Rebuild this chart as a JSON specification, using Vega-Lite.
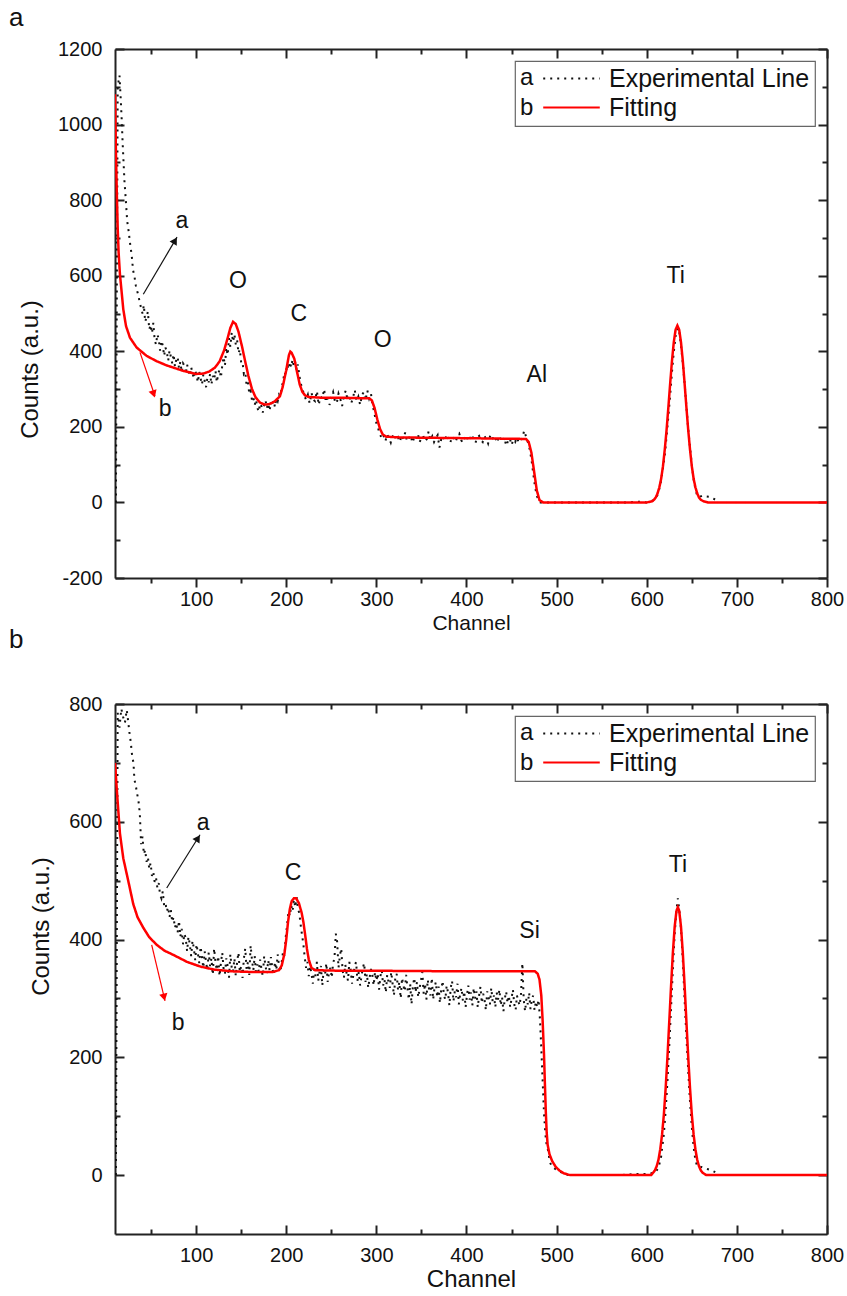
{
"$schema":"https://vega.github.io/schema/vega-lite/v6.json",
"padding":{"left":9,"top":5,"right":5,"bottom":2},
"background":"white",
"spacing":-6,
"datasets":{
"ea":[{"c":11,"v":0},{"c":13,"v":1100},{"c":15,"v":1130},{"c":16.5,"v":1060},{"c":17.5,"v":1010},{"c":18.5,"v":950},{"c":19.5,"v":900},{"c":20.5,"v":850},{"c":22,"v":800},{"c":23.5,"v":745},{"c":25,"v":720},{"c":27,"v":680},{"c":28.5,"v":655},{"c":30,"v":615},{"c":31.5,"v":600},{"c":33,"v":575},{"c":34.5,"v":560},{"c":36,"v":548},{"c":37.5,"v":528},{"c":39,"v":515},{"c":40.5,"v":500},{"c":42,"v":522},{"c":43.5,"v":478},{"c":45,"v":490},{"c":46.5,"v":505},{"c":48,"v":458},{"c":49.5,"v":470},{"c":51,"v":448},{"c":52.5,"v":475},{"c":54,"v":430},{"c":55.5,"v":418},{"c":57,"v":445},{"c":58.5,"v":432},{"c":60,"v":402},{"c":61.5,"v":428},{"c":63,"v":415},{"c":64.5,"v":388},{"c":66,"v":410},{"c":67.5,"v":398},{"c":69,"v":375},{"c":70.5,"v":402},{"c":72,"v":385},{"c":73.5,"v":368},{"c":75,"v":392},{"c":76.5,"v":360},{"c":78,"v":378},{"c":79.5,"v":385},{"c":81,"v":355},{"c":82.5,"v":372},{"c":84,"v":345},{"c":85.5,"v":368},{"c":87,"v":362},{"c":88.5,"v":340},{"c":90,"v":365},{"c":91.5,"v":348},{"c":93,"v":335},{"c":94.5,"v":358},{"c":96,"v":342},{"c":97.5,"v":328},{"c":99,"v":350},{"c":100.5,"v":335},{"c":102,"v":318},{"c":103.5,"v":345},{"c":105,"v":328},{"c":106.5,"v":312},{"c":108,"v":338},{"c":109.5,"v":322},{"c":111,"v":305},{"c":112.5,"v":330},{"c":114,"v":318},{"c":115.5,"v":340},{"c":117,"v":312},{"c":118.5,"v":335},{"c":120,"v":325},{"c":121.5,"v":348},{"c":123,"v":318},{"c":124.5,"v":340},{"c":126,"v":352},{"c":127.5,"v":330},{"c":129,"v":362},{"c":130.5,"v":385},{"c":132,"v":362},{"c":133.5,"v":410},{"c":135,"v":390},{"c":136.5,"v":435},{"c":138,"v":412},{"c":139.5,"v":450},{"c":141,"v":425},{"c":142.5,"v":445},{"c":144,"v":418},{"c":145.5,"v":430},{"c":147,"v":395},{"c":148.5,"v":405},{"c":150,"v":370},{"c":151.5,"v":372},{"c":153,"v":340},{"c":154.5,"v":345},{"c":156,"v":310},{"c":157.5,"v":318},{"c":159,"v":288},{"c":160.5,"v":295},{"c":162,"v":270},{"c":163.5,"v":278},{"c":165,"v":258},{"c":166.5,"v":272},{"c":168,"v":250},{"c":169.5,"v":240},{"c":171,"v":262},{"c":172.5,"v":255},{"c":174,"v":238},{"c":175.5,"v":258},{"c":177,"v":270},{"c":178.5,"v":250},{"c":180,"v":262},{"c":181.5,"v":242},{"c":183,"v":265},{"c":184.5,"v":255},{"c":186,"v":270},{"c":187.5,"v":252},{"c":189,"v":275},{"c":190.5,"v":268},{"c":192,"v":285},{"c":193.5,"v":280},{"c":195,"v":305},{"c":196.5,"v":320},{"c":198,"v":345},{"c":199.5,"v":338},{"c":201,"v":365},{"c":202.5,"v":352},{"c":204,"v":372},{"c":205.5,"v":358},{"c":207,"v":378},{"c":208.5,"v":360},{"c":210,"v":372},{"c":211.5,"v":350},{"c":213,"v":365},{"c":214.5,"v":335},{"c":216,"v":318},{"c":217.5,"v":300},{"c":219,"v":292},{"c":220.5,"v":280},{"c":222,"v":272},{"c":224,"v":285},{"c":226,"v":262},{"c":228,"v":290},{"c":230,"v":272},{"c":232,"v":268},{"c":234,"v":295},{"c":236,"v":258},{"c":238,"v":280},{"c":240,"v":275},{"c":242,"v":300},{"c":244,"v":265},{"c":246,"v":284},{"c":248,"v":258},{"c":250,"v":278},{"c":252,"v":292},{"c":254,"v":268},{"c":256,"v":262},{"c":258,"v":288},{"c":260,"v":274},{"c":262,"v":255},{"c":264,"v":282},{"c":266,"v":296},{"c":268,"v":270},{"c":270,"v":285},{"c":272,"v":262},{"c":274,"v":276},{"c":276,"v":298},{"c":278,"v":268},{"c":280,"v":280},{"c":282,"v":258},{"c":284,"v":284},{"c":286,"v":292},{"c":288,"v":270},{"c":290,"v":296},{"c":292,"v":275},{"c":294,"v":288},{"c":295.5,"v":262},{"c":297,"v":245},{"c":298.5,"v":228},{"c":300,"v":210},{"c":301.5,"v":200},{"c":303,"v":188},{"c":304.5,"v":178},{"c":306,"v":168},{"c":308,"v":176},{"c":310,"v":162},{"c":312,"v":180},{"c":314,"v":170},{"c":316,"v":158},{"c":318,"v":175},{"c":320,"v":182},{"c":322,"v":165},{"c":324,"v":172},{"c":326,"v":160},{"c":328,"v":178},{"c":330,"v":168},{"c":332,"v":185},{"c":334,"v":162},{"c":336,"v":170},{"c":338,"v":178},{"c":340,"v":158},{"c":342,"v":172},{"c":344,"v":166},{"c":346,"v":182},{"c":348,"v":160},{"c":350,"v":170},{"c":352,"v":176},{"c":354,"v":162},{"c":356,"v":168},{"c":358,"v":188},{"c":360,"v":164},{"c":362,"v":175},{"c":364,"v":160},{"c":366,"v":170},{"c":368,"v":178},{"c":370,"v":145},{"c":372,"v":168},{"c":374,"v":176},{"c":376,"v":162},{"c":378,"v":180},{"c":380,"v":166},{"c":382,"v":158},{"c":384,"v":174},{"c":386,"v":170},{"c":388,"v":160},{"c":390,"v":176},{"c":392,"v":182},{"c":394,"v":165},{"c":396,"v":158},{"c":398,"v":172},{"c":400,"v":178},{"c":402,"v":162},{"c":404,"v":170},{"c":406,"v":180},{"c":408,"v":164},{"c":410,"v":158},{"c":412,"v":172},{"c":414,"v":176},{"c":416,"v":165},{"c":418,"v":160},{"c":420,"v":175},{"c":422,"v":168},{"c":424,"v":156},{"c":426,"v":174},{"c":428,"v":180},{"c":430,"v":163},{"c":432,"v":170},{"c":434,"v":158},{"c":436,"v":176},{"c":438,"v":168},{"c":440,"v":160},{"c":442,"v":172},{"c":444,"v":150},{"c":446,"v":162},{"c":448,"v":170},{"c":450,"v":152},{"c":452,"v":166},{"c":454,"v":160},{"c":456,"v":172},{"c":458,"v":158},{"c":460,"v":166},{"c":462,"v":170},{"c":464,"v":190},{"c":466,"v":175},{"c":468,"v":160},{"c":470,"v":142},{"c":472,"v":115},{"c":474,"v":78},{"c":476,"v":42},{"c":478,"v":18},{"c":480,"v":5},{"c":482,"v":0},{"c":494,"v":0},{"c":509,"v":0},{"c":520,"v":0},{"c":544,"v":0},{"c":556,"v":0},{"c":567,"v":0},{"c":579,"v":0},{"c":590,"v":2},{"c":600,"v":0},{"c":608,"v":6},{"c":612,"v":20},{"c":615,"v":45},{"c":618,"v":90},{"c":620,"v":125},{"c":622,"v":175},{"c":624,"v":228},{"c":626,"v":285},{"c":628,"v":345},{"c":630,"v":398},{"c":632,"v":440},{"c":633.5,"v":455},{"c":635,"v":462},{"c":636.5,"v":445},{"c":638,"v":415},{"c":640,"v":370},{"c":642,"v":315},{"c":644,"v":255},{"c":646,"v":195},{"c":648,"v":145},{"c":650,"v":100},{"c":652,"v":62},{"c":654,"v":35},{"c":656,"v":18},{"c":658,"v":14},{"c":662,"v":18},{"c":666,"v":16},{"c":670,"v":15},{"c":674,"v":10},{"c":678,"v":5}],
"fa":[{"c":10,"v":1080},{"c":11,"v":930},{"c":12,"v":820},{"c":13,"v":725},{"c":14,"v":662},{"c":15.5,"v":603},{"c":17.4,"v":556},{"c":19.2,"v":511},{"c":22.2,"v":467},{"c":26.6,"v":436},{"c":34,"v":410},{"c":45,"v":388},{"c":56,"v":374},{"c":67,"v":363},{"c":86,"v":348},{"c":100,"v":340},{"c":108,"v":341},{"c":115,"v":347},{"c":121,"v":357},{"c":126,"v":373},{"c":131,"v":402},{"c":135,"v":435},{"c":138,"v":462},{"c":141,"v":478},{"c":144,"v":472},{"c":147,"v":452},{"c":151,"v":412},{"c":154,"v":378},{"c":158,"v":335},{"c":162,"v":300},{"c":166,"v":278},{"c":171,"v":264},{"c":176,"v":259},{"c":181,"v":260},{"c":187,"v":267},{"c":193,"v":281},{"c":196,"v":305},{"c":200,"v":350},{"c":203,"v":390},{"c":204.5,"v":399},{"c":206,"v":396},{"c":209,"v":380},{"c":212,"v":345},{"c":215,"v":312},{"c":218,"v":292},{"c":221,"v":283},{"c":225,"v":279},{"c":240,"v":277},{"c":260,"v":277},{"c":280,"v":276},{"c":292,"v":276},{"c":295,"v":270},{"c":298,"v":250},{"c":301,"v":220},{"c":304,"v":195},{"c":307,"v":180},{"c":311,"v":174},{"c":326,"v":172},{"c":400,"v":170},{"c":466,"v":168},{"c":469,"v":160},{"c":472,"v":132},{"c":475,"v":82},{"c":478,"v":32},{"c":481,"v":6},{"c":485,"v":0},{"c":600,"v":0},{"c":606,"v":3},{"c":608,"v":7},{"c":610,"v":13},{"c":612,"v":24},{"c":614,"v":40},{"c":616,"v":63},{"c":618,"v":96},{"c":620,"v":140},{"c":622,"v":192},{"c":624,"v":252},{"c":626,"v":315},{"c":628,"v":375},{"c":630,"v":424},{"c":632,"v":457},{"c":634,"v":468},{"c":636,"v":457},{"c":638,"v":424},{"c":640,"v":375},{"c":642,"v":315},{"c":644,"v":252},{"c":646,"v":192},{"c":648,"v":140},{"c":650,"v":96},{"c":652,"v":63},{"c":654,"v":40},{"c":656,"v":24},{"c":658,"v":13},{"c":660,"v":7},{"c":663,"v":3},{"c":668,"v":0},{"c":800,"v":0}],
"eb":[{"c":11,"v":0},{"c":13,"v":785},{"c":15,"v":760},{"c":17,"v":792},{"c":19,"v":778},{"c":21,"v":768},{"c":23,"v":790},{"c":24.5,"v":772},{"c":26,"v":752},{"c":27.5,"v":735},{"c":29,"v":712},{"c":30.5,"v":700},{"c":31.5,"v":672},{"c":33,"v":662},{"c":34.5,"v":648},{"c":36,"v":636},{"c":37.5,"v":615},{"c":39,"v":562},{"c":40.5,"v":575},{"c":42,"v":545},{"c":43.5,"v":552},{"c":45,"v":532},{"c":46.5,"v":540},{"c":48,"v":520},{"c":49.5,"v":530},{"c":51,"v":508},{"c":52.5,"v":515},{"c":54,"v":498},{"c":55.5,"v":505},{"c":57,"v":488},{"c":58.5,"v":496},{"c":60,"v":476},{"c":61.5,"v":470},{"c":63,"v":482},{"c":64.5,"v":458},{"c":66,"v":462},{"c":67.5,"v":448},{"c":69,"v":455},{"c":70.5,"v":438},{"c":72,"v":450},{"c":73.5,"v":430},{"c":75,"v":438},{"c":76.5,"v":420},{"c":78,"v":428},{"c":79.5,"v":412},{"c":81,"v":432},{"c":82.5,"v":405},{"c":84,"v":418},{"c":85.5,"v":392},{"c":87,"v":410},{"c":88.5,"v":402},{"c":90,"v":380},{"c":91.5,"v":405},{"c":93,"v":392},{"c":94.5,"v":372},{"c":96,"v":398},{"c":97.5,"v":385},{"c":99,"v":365},{"c":100.5,"v":392},{"c":102,"v":376},{"c":103.5,"v":360},{"c":105,"v":388},{"c":106.5,"v":370},{"c":108,"v":352},{"c":109.5,"v":380},{"c":111,"v":362},{"c":112.5,"v":348},{"c":114,"v":378},{"c":115.5,"v":355},{"c":117,"v":368},{"c":118.5,"v":340},{"c":120,"v":385},{"c":121.5,"v":362},{"c":123,"v":348},{"c":124.5,"v":372},{"c":126,"v":338},{"c":127.5,"v":360},{"c":129,"v":378},{"c":130.5,"v":350},{"c":132,"v":342},{"c":133.5,"v":368},{"c":135,"v":355},{"c":136.5,"v":335},{"c":138,"v":375},{"c":139.5,"v":352},{"c":141,"v":345},{"c":142.5,"v":368},{"c":144,"v":338},{"c":145.5,"v":362},{"c":147,"v":378},{"c":148.5,"v":345},{"c":150,"v":355},{"c":151.5,"v":335},{"c":153,"v":368},{"c":154.5,"v":385},{"c":156,"v":350},{"c":157.5,"v":362},{"c":159,"v":340},{"c":160.5,"v":390},{"c":162,"v":365},{"c":163.5,"v":348},{"c":165,"v":372},{"c":166.5,"v":340},{"c":168,"v":358},{"c":169.5,"v":345},{"c":171,"v":366},{"c":172.5,"v":350},{"c":174,"v":338},{"c":175.5,"v":372},{"c":177,"v":355},{"c":178.5,"v":342},{"c":180,"v":365},{"c":181.5,"v":348},{"c":183,"v":370},{"c":184.5,"v":352},{"c":186,"v":340},{"c":187.5,"v":362},{"c":189,"v":348},{"c":190.5,"v":375},{"c":192,"v":355},{"c":193.5,"v":345},{"c":195,"v":362},{"c":196.5,"v":380},{"c":198,"v":372},{"c":199.5,"v":405},{"c":201,"v":425},{"c":202.5,"v":448},{"c":204,"v":440},{"c":205.5,"v":458},{"c":207,"v":448},{"c":208.5,"v":468},{"c":210,"v":455},{"c":211.5,"v":472},{"c":213,"v":452},{"c":214.5,"v":445},{"c":216,"v":425},{"c":217.5,"v":408},{"c":219,"v":392},{"c":220.5,"v":370},{"c":222,"v":352},{"c":223.5,"v":362},{"c":225,"v":338},{"c":226.5,"v":355},{"c":228,"v":342},{"c":229.5,"v":325},{"c":231,"v":350},{"c":232.5,"v":338},{"c":234,"v":362},{"c":235.5,"v":330},{"c":237,"v":345},{"c":238.5,"v":355},{"c":240,"v":322},{"c":241.5,"v":348},{"c":243,"v":340},{"c":244.5,"v":360},{"c":246,"v":328},{"c":247.5,"v":345},{"c":249,"v":352},{"c":250.5,"v":335},{"c":252,"v":360},{"c":253.5,"v":368},{"c":255,"v":410},{"c":256.5,"v":396},{"c":258,"v":352},{"c":259.5,"v":372},{"c":261,"v":385},{"c":262.5,"v":348},{"c":264,"v":335},{"c":265.5,"v":358},{"c":267,"v":342},{"c":268.5,"v":330},{"c":270,"v":362},{"c":271.5,"v":348},{"c":273,"v":325},{"c":274.5,"v":340},{"c":276,"v":355},{"c":277.5,"v":362},{"c":279,"v":330},{"c":280.5,"v":345},{"c":282,"v":322},{"c":283.5,"v":338},{"c":285,"v":352},{"c":286.5,"v":360},{"c":288,"v":328},{"c":289.5,"v":342},{"c":291,"v":318},{"c":292.5,"v":335},{"c":294,"v":350},{"c":295.5,"v":340},{"c":297,"v":322},{"c":298.5,"v":345},{"c":300,"v":330},{"c":301.5,"v":342},{"c":303,"v":315},{"c":304.5,"v":338},{"c":306,"v":348},{"c":307.5,"v":322},{"c":309,"v":332},{"c":310.5,"v":310},{"c":312,"v":340},{"c":313.5,"v":328},{"c":315,"v":318},{"c":316.5,"v":345},{"c":318,"v":325},{"c":319.5,"v":305},{"c":321,"v":335},{"c":322.5,"v":342},{"c":324,"v":315},{"c":325.5,"v":328},{"c":327,"v":300},{"c":328.5,"v":335},{"c":330,"v":322},{"c":331.5,"v":312},{"c":333,"v":340},{"c":334.5,"v":318},{"c":336,"v":298},{"c":337.5,"v":325},{"c":339,"v":290},{"c":340.5,"v":320},{"c":342,"v":335},{"c":343.5,"v":310},{"c":345,"v":328},{"c":346.5,"v":302},{"c":348,"v":318},{"c":349.5,"v":330},{"c":351,"v":345},{"c":352.5,"v":308},{"c":354,"v":325},{"c":355.5,"v":298},{"c":357,"v":332},{"c":358.5,"v":315},{"c":360,"v":305},{"c":361.5,"v":335},{"c":363,"v":298},{"c":364.5,"v":318},{"c":366,"v":328},{"c":367.5,"v":302},{"c":369,"v":320},{"c":370.5,"v":292},{"c":372,"v":315},{"c":373.5,"v":330},{"c":375,"v":305},{"c":376.5,"v":298},{"c":378,"v":322},{"c":379.5,"v":310},{"c":381,"v":288},{"c":382.5,"v":318},{"c":384,"v":330},{"c":385.5,"v":295},{"c":387,"v":312},{"c":388.5,"v":302},{"c":390,"v":325},{"c":391.5,"v":290},{"c":393,"v":308},{"c":394.5,"v":318},{"c":396,"v":296},{"c":397.5,"v":312},{"c":399,"v":285},{"c":400.5,"v":305},{"c":402,"v":322},{"c":403.5,"v":298},{"c":405,"v":310},{"c":406.5,"v":288},{"c":408,"v":318},{"c":409.5,"v":300},{"c":411,"v":312},{"c":412.5,"v":285},{"c":414,"v":305},{"c":415.5,"v":320},{"c":417,"v":292},{"c":418.5,"v":308},{"c":420,"v":298},{"c":421.5,"v":280},{"c":423,"v":312},{"c":424.5,"v":302},{"c":426,"v":290},{"c":427.5,"v":318},{"c":429,"v":295},{"c":430.5,"v":305},{"c":432,"v":285},{"c":433.5,"v":310},{"c":435,"v":298},{"c":436.5,"v":315},{"c":438,"v":288},{"c":439.5,"v":302},{"c":441,"v":278},{"c":442.5,"v":300},{"c":444,"v":312},{"c":445.5,"v":292},{"c":447,"v":305},{"c":448.5,"v":285},{"c":450,"v":300},{"c":451.5,"v":315},{"c":453,"v":290},{"c":454.5,"v":280},{"c":456,"v":305},{"c":457.5,"v":295},{"c":459,"v":288},{"c":460.5,"v":308},{"c":462,"v":360},{"c":463.5,"v":298},{"c":465,"v":278},{"c":466.5,"v":300},{"c":468,"v":290},{"c":469.5,"v":310},{"c":471,"v":282},{"c":472.5,"v":298},{"c":474,"v":305},{"c":475.5,"v":280},{"c":477,"v":295},{"c":478.5,"v":285},{"c":480,"v":298},{"c":481.5,"v":265},{"c":483,"v":215},{"c":484.5,"v":160},{"c":486,"v":105},{"c":487.5,"v":70},{"c":489,"v":50},{"c":490.5,"v":42},{"c":492.5,"v":22},{"c":495,"v":14},{"c":500,"v":9},{"c":506,"v":4},{"c":513,"v":0},{"c":526,"v":0},{"c":540,"v":0},{"c":556,"v":0},{"c":572,"v":0},{"c":588,"v":2},{"c":600,"v":2},{"c":609,"v":4},{"c":613,"v":12},{"c":616,"v":32},{"c":619,"v":70},{"c":621,"v":110},{"c":623,"v":160},{"c":625,"v":220},{"c":627,"v":285},{"c":629,"v":350},{"c":631,"v":410},{"c":633,"v":450},{"c":634.5,"v":470},{"c":636,"v":452},{"c":638,"v":418},{"c":640,"v":365},{"c":642,"v":298},{"c":644,"v":235},{"c":646,"v":178},{"c":648,"v":125},{"c":650,"v":82},{"c":652,"v":48},{"c":654,"v":25},{"c":656,"v":15},{"c":660,"v":14},{"c":664,"v":12},{"c":668,"v":10},{"c":672,"v":8},{"c":676,"v":5}],
"fb":[{"c":10,"v":700},{"c":11.9,"v":657},{"c":13.7,"v":618},{"c":15.5,"v":580},{"c":19.2,"v":538},{"c":24.8,"v":499},{"c":30.3,"v":460},{"c":35,"v":438},{"c":41.4,"v":420},{"c":48,"v":404},{"c":56.3,"v":391},{"c":65,"v":381},{"c":74.7,"v":374},{"c":90,"v":362},{"c":105,"v":354},{"c":120,"v":349},{"c":140,"v":346},{"c":160,"v":345},{"c":185,"v":345},{"c":192,"v":348},{"c":195,"v":356},{"c":198,"v":376},{"c":200,"v":400},{"c":202,"v":430},{"c":204,"v":452},{"c":206,"v":465},{"c":208.5,"v":470},{"c":211,"v":470},{"c":214,"v":462},{"c":217,"v":446},{"c":219,"v":430},{"c":221,"v":408},{"c":223,"v":384},{"c":225,"v":366},{"c":228,"v":352},{"c":232,"v":348},{"c":260,"v":347},{"c":300,"v":347},{"c":400,"v":346},{"c":476,"v":346},{"c":479,"v":342},{"c":481,"v":332},{"c":483,"v":305},{"c":484.5,"v":262},{"c":486,"v":205},{"c":487,"v":155},{"c":488,"v":108},{"c":489,"v":72},{"c":490,"v":52},{"c":492,"v":36},{"c":495,"v":24},{"c":499,"v":14},{"c":503,"v":8},{"c":508,"v":3},{"c":515,"v":0},{"c":605,"v":0},{"c":607,"v":4},{"c":609,"v":8},{"c":611,"v":15},{"c":613,"v":26},{"c":615,"v":44},{"c":617,"v":69},{"c":619,"v":103},{"c":621,"v":148},{"c":623,"v":201},{"c":625,"v":261},{"c":627,"v":322},{"c":629,"v":378},{"c":631,"v":422},{"c":633,"v":449},{"c":634.5,"v":455},{"c":636,"v":449},{"c":638,"v":422},{"c":640,"v":378},{"c":642,"v":322},{"c":644,"v":261},{"c":646,"v":201},{"c":648,"v":148},{"c":650,"v":103},{"c":652,"v":69},{"c":654,"v":44},{"c":656,"v":26},{"c":658,"v":15},{"c":660,"v":8},{"c":662,"v":4},{"c":666,"v":0},{"c":800,"v":0}]
},
"vconcat":[
{
"width":712,"height":529,
"title":{"text":"a","offset":8,"dx":-106},
"resolve":{"scale":{"x":"shared","y":"shared"},"axis":{"x":"independent","y":"independent"}},
"layer":[
{"data":{"name":"ea"},"mark":{"type":"line","strokeWidth":2,"clip":true},
"encoding":{
"x":{"field":"c","type":"quantitative","scale":{"domain":[10,800],"nice":false,"zero":false},"axis":{"orient":"bottom","values":[100,200,300,400,500,600,700,800],"tickSize":9,"labelPadding":2,"title":"Channel","titleFontSize":21,"titlePadding":3}},
"y":{"field":"v","type":"quantitative","scale":{"domain":[-200,1200],"nice":false,"zero":false},"axis":{"orient":"left","values":[-200,0,200,400,600,800,1000,1200],"labelExpr":"'' + datum.value","tickSize":-9,"labelPadding":22,"title":"Counts (a.u.)","titleFontSize":24,"titlePadding":15,"titleY":320}},
"color":{"datum":"a","type":"nominal","scale":{"domain":["a","b"],"range":["#111111","#ff0000"]},"legend":{"title":["a","b"],"labelExpr":"datum.label == 'a' ? 'Experimental Line' : 'Fitting'"}},
"strokeDash":{"datum":"a","type":"nominal","scale":{"domain":["a","b"],"range":[[2,5],[1,0]]},"legend":{"title":["a","b"],"labelExpr":"datum.label == 'a' ? 'Experimental Line' : 'Fitting'"}}
}},
{"data":{"name":"fa"},"mark":{"type":"line","strokeWidth":2.5,"clip":true},
"encoding":{
"x":{"field":"c","type":"quantitative","axis":{"orient":"top","values":[100,200,300,400,500,600,700,800],"tickSize":-9,"labels":false,"title":null}},
"y":{"field":"v","type":"quantitative","axis":{"orient":"right","values":[-200,0,200,400,600,800,1000,1200],"tickSize":-9,"labels":false,"title":null}},
"color":{"datum":"b","type":"nominal"},
"strokeDash":{"datum":"b","type":"nominal"}
}},
{"data":{"values":[{"c":146.5,"v":585,"t":"O"},{"c":214,"v":498,"t":"C"},{"c":307,"v":429,"t":"O"},{"c":478,"v":336,"t":"Al"},{"c":632,"v":598,"t":"Ti"},{"c":84.3,"v":744,"t":"a"},{"c":65.5,"v":246,"t":"b"}]},
"mark":{"type":"text","fontSize":23,"font":"Liberation Sans","color":"#111","align":"center","baseline":"middle"},
"encoding":{
"x":{"field":"c","type":"quantitative","axis":{"orient":"bottom","values":[50,150,250,350,450,550,650,750],"tickSize":5,"labels":false,"domain":false,"title":null}},
"y":{"field":"v","type":"quantitative","axis":{"orient":"left","values":[-100,100,300,500,700,900,1100],"tickSize":-5,"labels":false,"domain":false,"title":null}},
"text":{"field":"t"}
}},
{"data":{"values":[{"c":41.4,"v":551,"c2":78.8,"v2":702}]},
"mark":{"type":"rule","color":"#111","strokeWidth":1.2},
"encoding":{
"x":{"field":"c","type":"quantitative","axis":{"orient":"top","values":[50,150,250,350,450,550,650,750],"tickSize":-5,"labels":false,"domain":false,"title":null}},
"y":{"field":"v","type":"quantitative","axis":{"orient":"right","values":[-100,100,300,500,700,900,1100],"tickSize":-5,"labels":false,"domain":false,"title":null}},
"x2":{"field":"c2"},"y2":{"field":"v2"}
}},
{"data":{"values":[{"c":37.7,"v":397,"c2":54.4,"v2":281}]},
"mark":{"type":"rule","color":"#ff0000","strokeWidth":1.2},
"encoding":{"x":{"field":"c","type":"quantitative","axis":null},"y":{"field":"v","type":"quantitative","axis":null},"x2":{"field":"c2"},"y2":{"field":"v2"}}},
{"data":{"values":[{"c":76.6,"v":693}]},
"mark":{"type":"point","shape":"triangle-up","filled":true,"size":70,"angle":31,"color":"#111","opacity":1},
"encoding":{"x":{"field":"c","type":"quantitative","axis":null},"y":{"field":"v","type":"quantitative","axis":null}}},
{"data":{"values":[{"c":52.9,"v":287}]},
"mark":{"type":"point","shape":"triangle-up","filled":true,"size":70,"angle":162,"color":"#ff0000","opacity":1},
"encoding":{"x":{"field":"c","type":"quantitative","axis":null},"y":{"field":"v","type":"quantitative","axis":null}}}
]
},
{
"width":712,"height":530,
"title":{"text":"b","offset":41,"dx":-106},
"resolve":{"scale":{"x":"shared","y":"shared"},"axis":{"x":"independent","y":"independent"}},
"layer":[
{"data":{"name":"eb"},"mark":{"type":"line","strokeWidth":2,"clip":true},
"encoding":{
"x":{"field":"c","type":"quantitative","scale":{"domain":[10,800],"nice":false,"zero":false},"axis":{"orient":"bottom","values":[100,200,300,400,500,600,700,800],"tickSize":-9,"labelPadding":20,"title":"Channel","titleFontSize":24,"titlePadding":2}},
"y":{"field":"v","type":"quantitative","scale":{"domain":[-100,800],"nice":false,"zero":false},"axis":{"orient":"left","values":[0,200,400,600,800],"labelExpr":"'' + datum.value","tickSize":-9,"labelPadding":22,"title":"Counts (a.u.)","titleFontSize":24,"titlePadding":15,"titleY":222}},
"color":{"datum":"a","type":"nominal","scale":{"domain":["a","b"],"range":["#111111","#ff0000"]},"legend":{"title":["a","b"],"labelExpr":"datum.label == 'a' ? 'Experimental Line' : 'Fitting'"}},
"strokeDash":{"datum":"a","type":"nominal","scale":{"domain":["a","b"],"range":[[2,5],[1,0]]},"legend":{"title":["a","b"],"labelExpr":"datum.label == 'a' ? 'Experimental Line' : 'Fitting'"}}
}},
{"data":{"name":"fb"},"mark":{"type":"line","strokeWidth":2.5,"clip":true},
"encoding":{
"x":{"field":"c","type":"quantitative","axis":{"orient":"top","values":[100,200,300,400,500,600,700,800],"tickSize":-9,"labels":false,"title":null}},
"y":{"field":"v","type":"quantitative","axis":{"orient":"right","values":[0,200,400,600,800],"tickSize":-9,"labels":false,"title":null}},
"color":{"datum":"b","type":"nominal"},
"strokeDash":{"datum":"b","type":"nominal"}
}},
{"data":{"values":[{"c":207.5,"v":513,"t":"C"},{"c":470,"v":414,"t":"Si"},{"c":634.7,"v":527,"t":"Ti"},{"c":107.8,"v":598,"t":"a"},{"c":80,"v":258,"t":"b"}]},
"mark":{"type":"text","fontSize":23,"font":"Liberation Sans","color":"#111","align":"center","baseline":"middle"},
"encoding":{
"x":{"field":"c","type":"quantitative","axis":{"orient":"bottom","values":[50,150,250,350,450,550,650,750],"tickSize":-5,"labels":false,"domain":false,"title":null}},
"y":{"field":"v","type":"quantitative","axis":{"orient":"left","values":[100,300,500,700],"tickSize":-5,"labels":false,"domain":false,"title":null}},
"text":{"field":"t"}
}},
{"data":{"values":[{"c":67.4,"v":487.5,"c2":104.3,"v2":578}]},
"mark":{"type":"rule","color":"#111","strokeWidth":1.2},
"encoding":{
"x":{"field":"c","type":"quantitative","axis":{"orient":"top","values":[50,150,250,350,450,550,650,750],"tickSize":-5,"labels":false,"domain":false,"title":null}},
"y":{"field":"v","type":"quantitative","axis":{"orient":"right","values":[100,300,500,700],"tickSize":-5,"labels":false,"domain":false,"title":null}},
"x2":{"field":"c2"},"y2":{"field":"v2"}
}},
{"data":{"values":[{"c":50.7,"v":391,"c2":65.5,"v2":296}]},
"mark":{"type":"rule","color":"#ff0000","strokeWidth":1.2},
"encoding":{"x":{"field":"c","type":"quantitative","axis":null},"y":{"field":"v","type":"quantitative","axis":null},"x2":{"field":"c2"},"y2":{"field":"v2"}}},
{"data":{"values":[{"c":102,"v":572}]},
"mark":{"type":"point","shape":"triangle-up","filled":true,"size":70,"angle":32,"color":"#111","opacity":1},
"encoding":{"x":{"field":"c","type":"quantitative","axis":null},"y":{"field":"v","type":"quantitative","axis":null}}},
{"data":{"values":[{"c":64.5,"v":302}]},
"mark":{"type":"point","shape":"triangle-up","filled":true,"size":70,"angle":167,"color":"#ff0000","opacity":1},
"encoding":{"x":{"field":"c","type":"quantitative","axis":null},"y":{"field":"v","type":"quantitative","axis":null}}}
]
}
],
"resolve":{"scale":{"color":"independent","strokeDash":"independent"},"legend":{"color":"independent","strokeDash":"independent"}},
"config":{
"font":"Liberation Sans",
"view":{"stroke":null},
"axis":{"domainColor":"#222","domainWidth":2,"tickColor":"#222","tickWidth":2,"labelFont":"Liberation Sans","labelFontSize":20,"labelColor":"#111","titleFont":"Liberation Sans","titleFontWeight":"normal","titleColor":"#111","grid":false,"labelFlush":false},
"legend":{"orient":"top-right","offset":12,"strokeColor":"#666","strokeWidth":1.2,"fillColor":"white","padding":5,"cornerRadius":0,"labelFont":"Liberation Sans","labelFontSize":25,"labelColor":"#111","labelLimit":0,"labelOffset":25,"symbolType":"M-4,0L4,0","symbolSize":200,"symbolStrokeWidth":2,"rowPadding":3,"titleOrient":"left","titleAnchor":"start","titleBaseline":"top","titleFontSize":24,"titleFontWeight":"normal","titleFont":"Liberation Sans","titleColor":"#111","titlePadding":25,"titleLineHeight":30},
"title":{"fontSize":26,"fontWeight":"normal","font":"Liberation Sans","anchor":"start","frame":"group","color":"#111"}
}
}
